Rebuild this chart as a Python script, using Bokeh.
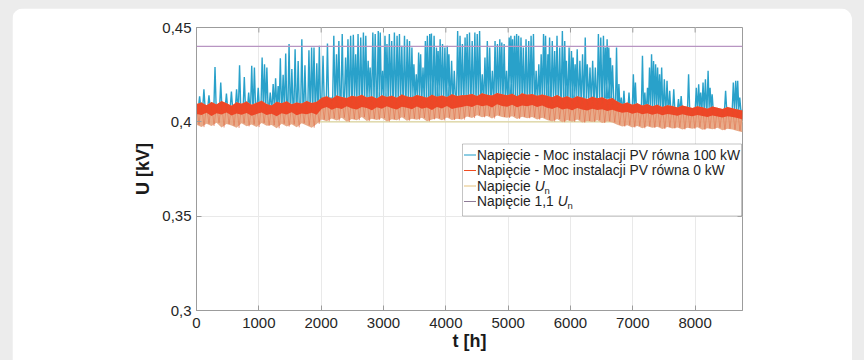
import numpy as np
from bokeh.plotting import figure
from bokeh.models import FixedTicker, Range1d, Label, BoxAnnotation, Span
from bokeh.embed import file_html
from bokeh.resources import INLINE

# ---------------- data ----------------
T_END = 8760

# 0 kW series, sampled every ~80 h: upper edge, lower edge of the dense red core, lowest dips
red_hi = [0.4095, 0.4102, 0.4088, 0.4105, 0.4092, 0.4110, 0.4098, 0.4085, 0.4104, 0.4096,
          0.4108, 0.4090, 0.4101, 0.4112, 0.4094, 0.4087, 0.4106, 0.4099, 0.4109, 0.4093,
          0.4103, 0.4097, 0.4111, 0.4100, 0.4106,
          0.4128, 0.4135, 0.4122, 0.4140, 0.4131, 0.4126, 0.4138, 0.4133, 0.4143, 0.4129,
          0.4136, 0.4124, 0.4141, 0.4132, 0.4138, 0.4127, 0.4145, 0.4134, 0.4130, 0.4142,
          0.4136, 0.4128, 0.4144, 0.4133, 0.4139, 0.4131, 0.4146, 0.4137, 0.4141,
          0.4142, 0.4148, 0.4137, 0.4151, 0.4144, 0.4139, 0.4153, 0.4146, 0.4141, 0.4149,
          0.4136, 0.4152, 0.4143, 0.4147, 0.4138, 0.4145,
          0.4138, 0.4130, 0.4142, 0.4127, 0.4135, 0.4124, 0.4136, 0.4129, 0.4121, 0.4133,
          0.4125, 0.4130, 0.4118, 0.4126,
          0.4108, 0.4095, 0.4102, 0.4090, 0.4098, 0.4086, 0.4094, 0.4082, 0.4091, 0.4079,
          0.4088, 0.4084, 0.4076, 0.4087, 0.4080, 0.4073, 0.4083, 0.4077, 0.4070, 0.4081,
          0.4074, 0.4068, 0.4079, 0.4072, 0.4066, 0.4060]
red_mid = [0.4042, 0.4036, 0.4048, 0.4031, 0.4045, 0.4039, 0.4050, 0.4034, 0.4044, 0.4038,
           0.4047, 0.4032, 0.4041, 0.4049, 0.4036, 0.4043, 0.4030, 0.4046, 0.4039, 0.4051,
           0.4035, 0.4044, 0.4040, 0.4048, 0.4037,
           0.4070, 0.4078, 0.4064, 0.4075, 0.4068, 0.4082, 0.4071, 0.4066, 0.4079, 0.4073,
           0.4062, 0.4077, 0.4069, 0.4083, 0.4072, 0.4065, 0.4080, 0.4074, 0.4067, 0.4081,
           0.4070, 0.4076, 0.4063, 0.4078, 0.4071, 0.4084, 0.4068, 0.4075, 0.4079,
           0.4085, 0.4078, 0.4091, 0.4082, 0.4088, 0.4076, 0.4093, 0.4084, 0.4080, 0.4090,
           0.4077, 0.4087, 0.4082, 0.4089, 0.4079, 0.4086,
           0.4074, 0.4068, 0.4078, 0.4065, 0.4071, 0.4062, 0.4073, 0.4066, 0.4060, 0.4070,
           0.4063, 0.4067, 0.4058, 0.4064,
           0.4055, 0.4048, 0.4052, 0.4043, 0.4049, 0.4040, 0.4046, 0.4038, 0.4044, 0.4035,
           0.4041, 0.4037, 0.4032, 0.4040, 0.4034, 0.4029, 0.4036, 0.4031, 0.4026, 0.4033,
           0.4028, 0.4023, 0.4030, 0.4025, 0.4020, 0.4012]
red_lo = [0.3985, 0.3972, 0.3990, 0.3978, 0.3995, 0.3970, 0.3988, 0.3980, 0.3968, 0.3992,
          0.3976, 0.3986, 0.3972, 0.3994, 0.3979, 0.3983, 0.3966, 0.3990, 0.3975, 0.3987,
          0.3971, 0.3993, 0.3981, 0.3969, 0.3989,
          0.4012, 0.4003, 0.4018, 0.4007, 0.4022, 0.4000, 0.4015, 0.4009, 0.4025, 0.4004,
          0.4016, 0.4010, 0.4020, 0.4002, 0.4014, 0.4008, 0.4024, 0.4006, 0.4017, 0.4011,
          0.4021, 0.4003, 0.4013, 0.4019, 0.4008, 0.4023, 0.4010, 0.4016, 0.4012,
          0.4028, 0.4020, 0.4035, 0.4024, 0.4031, 0.4018, 0.4034, 0.4026, 0.4021, 0.4030,
          0.4015, 0.4027, 0.4019, 0.4025, 0.4012, 0.4022,
          0.4010, 0.4002, 0.4015, 0.3998, 0.4008, 0.4000, 0.4012, 0.3996, 0.4005, 0.3999,
          0.4009, 0.3994, 0.4003, 0.3997,
          0.3985, 0.3975, 0.3982, 0.3970, 0.3978, 0.3966, 0.3976, 0.3968, 0.3974, 0.3962,
          0.3972, 0.3965, 0.3970, 0.3960, 0.3968, 0.3963, 0.3971, 0.3958, 0.3966, 0.3961,
          0.3969, 0.3956, 0.3964, 0.3959, 0.3952, 0.3945]

# 100 kW series: peaks of the midday spikes (hour, kV)
spike_t = [50, 119, 200, 297, 389, 480, 560, 643, 691, 767, 837, 886, 929, 990, 1053, 1091,
           1129, 1183, 1230, 1269, 1310, 1345, 1390, 1431, 1485, 1530, 1582, 1631, 1690, 1740,
           1804, 1847, 1885, 1930, 1971, 2030, 2101,
           2203, 2246, 2284, 2338, 2392, 2430, 2473, 2516, 2554, 2592, 2635, 2678, 2716, 2754,
           2786, 2829, 2867, 2916, 2948, 2986, 3024, 3056, 3094, 3132, 3175, 3218, 3256, 3294,
           3337, 3380, 3418, 3456, 3488, 3526, 3564, 3596, 3634, 3672, 3704, 3742, 3769, 3812,
           3850, 3877, 3909, 3947, 3985, 4023, 4050, 4093, 4136, 4190, 4228, 4266, 4309,
           4342, 4380, 4423, 4466, 4504, 4542, 4585, 4628, 4666, 4704, 4747, 4790, 4828, 4866,
           4898, 4936, 4974, 5017, 5044, 5071, 5103, 5136, 5168, 5206, 5244, 5287, 5330, 5368,
           5406, 5449, 5492, 5530, 5568, 5600, 5638, 5665, 5708, 5746, 5784, 5827, 5870, 5908,
           5935, 5978, 6016, 6043, 6075, 6108, 6151, 6194, 6237, 6270, 6313, 6356, 6399, 6448,
           6486, 6529,
           6560, 6588, 6615, 6642, 6675, 6739, 6777, 6815, 6858, 6939, 7009, 7042, 7155, 7193,
           7236, 7268, 7301, 7333, 7366, 7398, 7430, 7463, 7506, 7549, 7592, 7657, 7733, 7776,
           7895, 8019, 8057, 8089, 8127, 8165, 8208, 8240, 8273, 8489, 8613, 8651, 8683, 8716]
spike_v = [0.4135, 0.4173, 0.4140, 0.4291, 0.4208, 0.4150, 0.4160, 0.4173, 0.4300, 0.4238,
           0.4155, 0.4297, 0.4288, 0.4180, 0.4341, 0.4305, 0.4288, 0.4155, 0.4200, 0.4231,
           0.4190, 0.4337, 0.4250, 0.4362, 0.4412, 0.4280, 0.4385, 0.4323, 0.4438, 0.4300,
           0.4380, 0.4394, 0.4394, 0.4310, 0.4403, 0.4350, 0.4415,
           0.4456, 0.4358, 0.4429, 0.4465, 0.4341, 0.4438, 0.4456, 0.4461, 0.4358, 0.4465,
           0.4447, 0.4474, 0.4456, 0.4323, 0.4288, 0.4474, 0.4465, 0.4482, 0.4474, 0.4270,
           0.4456, 0.4412, 0.4465, 0.4429, 0.4474, 0.4456, 0.4465, 0.4403, 0.4456, 0.4438,
           0.4429, 0.4394, 0.4305, 0.4252, 0.4367, 0.4358, 0.4288, 0.4429, 0.4456, 0.4465,
           0.4468, 0.4456, 0.4394, 0.4376, 0.4438, 0.4412, 0.4394, 0.4403, 0.4358, 0.4323,
           0.4270, 0.4482, 0.4456, 0.4412, 0.4447,
           0.4465, 0.4474, 0.4429, 0.4474, 0.4465, 0.4482, 0.4252, 0.4341, 0.4429, 0.4394,
           0.4270, 0.4429, 0.4412, 0.4438, 0.4420, 0.4412, 0.4270, 0.4447, 0.4456, 0.4438,
           0.4456, 0.4465, 0.4456, 0.4447, 0.4394, 0.4438, 0.4429, 0.4456, 0.4465, 0.4270,
           0.4305, 0.4358, 0.4465, 0.4456, 0.4358, 0.4447, 0.4429, 0.4376, 0.4456, 0.4394,
           0.4482, 0.4429, 0.4323, 0.4394, 0.4376, 0.4341, 0.4305, 0.4385, 0.4323, 0.4358,
           0.4447, 0.4305, 0.4288, 0.4323, 0.4288, 0.4465, 0.4447, 0.4456,
           0.4394, 0.4438, 0.4394, 0.4340, 0.4300, 0.4394, 0.4200, 0.4128, 0.4164, 0.4155,
           0.4252, 0.4208, 0.4350, 0.4155, 0.4181, 0.4288, 0.4358, 0.4323, 0.4305, 0.4288,
           0.4252, 0.4288, 0.4226, 0.4217, 0.4164, 0.4173, 0.4120, 0.4137, 0.4252, 0.4181,
           0.4199, 0.4155, 0.4208, 0.4226, 0.4270, 0.4181, 0.4146, 0.4164, 0.4208, 0.4217,
           0.4217, 0.4128]
# 100 kW series between the spikes (level from given hour on)
blue_base_from = [0, 2000, 6700]
blue_base_val = [0.4080, 0.4125, 0.4060]

U_n = 0.40
U_max = 0.44

x_ticks = [0, 1000, 2000, 3000, 4000, 5000, 6000, 7000, 8000]
y_ticks = [0.30, 0.35, 0.40, 0.45]
y_tick_labels = ["0,3", "0,35", "0,4", "0,45"]

series_labels = ["Napięcie - Moc instalacji PV równa 100 kW",
                 "Napięcie - Moc instalacji PV równa 0 kW"]
un_prefix = ["Napięcie ", "Napięcie 1,1 "]

# ---------------- layout constants ----------------
W, H = 840, 352
BL, BR, BT, BB = 184, 110, 19, 50
FW, FH = W - BL - BR, H - BT - BB
Y0, Y1 = 0.30, 0.45
OX, OY = 12, 8  # figure offset on the page

def dx(px):
    return (px - OX - BL) / FW * T_END

def dy(py):
    return Y1 - (py - OY - BT) / FH * (Y1 - Y0)

PX_T = T_END / FW            # hours per pixel
PX_V = (Y1 - Y0) / FH        # kV per pixel

C_BLUE = "#1d9cc7"
C_RED = "#ef4022"
C_TAN = "#e7a784"
C_UN = "#dcd49c"
C_UMAX = "#b895c2"
C_AX = "#9c9c9c"
FONT = "Liberation Sans"

p = figure(width=W, height=H, x_range=Range1d(0, T_END), y_range=Range1d(Y0, Y1),
           output_backend="svg", toolbar_location=None,
           min_border_left=BL, min_border_right=BR, min_border_top=BT, min_border_bottom=BB)
p.outline_line_color = C_AX
p.background_fill_color = "white"
p.border_fill_color = "white"
p.styles = {"margin-left": f"{OX}px", "margin-top": f"{OY}px",
            "border-radius": "12px 12px 0 0", "overflow": "hidden"}

# axes
p.xaxis.ticker = FixedTicker(ticks=x_ticks)
p.yaxis.ticker = FixedTicker(ticks=y_ticks)
p.yaxis.major_label_overrides = {v: s for v, s in zip(y_ticks, y_tick_labels)}
for ax in p.axis:
    ax.axis_line_color = C_AX
    ax.major_tick_line_color = C_AX
    ax.major_tick_in = 5
    ax.major_tick_out = 0
    ax.minor_tick_line_color = None
    ax.major_label_text_color = "#262626"
    ax.major_label_text_font = FONT
    ax.major_label_text_font_size = "15px"
    ax.axis_label_text_font = FONT
    ax.axis_label_text_font_size = "18px"
    ax.axis_label_text_font_style = "bold"
    ax.axis_label_text_color = "#1a1a1a"
p.xaxis.major_label_standoff = 7
p.yaxis.major_label_standoff = 5
p.xaxis.axis_label = "t [h]"
p.yaxis.axis_label = "U [kV]"
p.xaxis.axis_label_standoff = 0
p.yaxis.axis_label_standoff = 6
p.xgrid.ticker = FixedTicker(ticks=x_ticks)
p.ygrid.ticker = FixedTicker(ticks=y_ticks)
p.grid.grid_line_color = "#e9e9e9"

# inward ticks on the top and right edges of the box
p.segment(x0=x_ticks, x1=x_ticks, y0=[Y1] * len(x_ticks), y1=[Y1 - 5 * PX_V] * len(x_ticks),
          line_color=C_AX, line_width=1)
p.segment(x0=[T_END] * len(y_ticks), x1=[T_END - 5 * PX_T] * len(y_ticks), y0=y_ticks, y1=y_ticks,
          line_color=C_AX, line_width=1)

# U_n line (under the series)
p.add_layout(Span(location=U_n, dimension="width", line_color=C_UN, line_width=1.3, level="underlay"))

# 100 kW series
st = np.array(spike_t, dtype=float)
sv = np.array(spike_v, dtype=float)
order = np.argsort(st)
st, sv = st[order], sv[order]
bidx = np.searchsorted(blue_base_from, st, side="right") - 1
bb = np.array(blue_base_val)[bidx]
bx = [0.0]
by = [blue_base_val[0]]
for t, v, b in zip(st, sv, bb):
    bx += [t - 18, t, t + 18]
    by += [b, v, b]
bx.append(T_END)
by.append(blue_base_val[-1])
p.line(bx, by, line_color=C_BLUE, line_width=1.4, line_alpha=0.95)

# 0 kW series (dense hourly trace drawn as its envelope + core)
rt = np.linspace(0, T_END, len(red_hi))
p.varea(x=rt, y1=red_lo, y2=red_hi, fill_color=C_TAN, fill_alpha=0.95)
p.varea(x=rt, y1=red_mid, y2=red_hi, fill_color=C_RED, fill_alpha=0.95)
half = (rt[1] - rt[0]) / 2
zx = np.empty(2 * len(rt))
zy = np.empty(2 * len(rt))
zx[0::2] = rt
zx[1::2] = rt + half
zy[0::2] = red_hi
zy[1::2] = red_lo
p.line(zx[:-1], zy[:-1], line_color="#e0502a", line_width=0.8, line_alpha=0.45)

# 1.1 U_n line
p.add_layout(Span(location=U_max, dimension="width", line_color=C_UMAX, line_width=1.3))

# legend
p.add_layout(BoxAnnotation(left=dx(462), right=dx(741), top=dy(143.5), bottom=dy(215.5),
                           fill_color="white", fill_alpha=1.0, line_color="#3c3c3c", line_width=1))
rows = [154.5, 170.0, 185.5, 201.0]
leg_colors = [C_BLUE, "#f04b20", "#e6c27c", "#8e7b96"]
p.segment(x0=[dx(463.5)] * 4, x1=[dx(475.5)] * 4, y0=[dy(r) for r in rows], y1=[dy(r) for r in rows],
          line_color=leg_colors, line_width=1.2, level="overlay")
leg_kw = dict(text_font=FONT, text_font_size="13.8px", text_color="#1e1e1e",
              text_baseline="middle", text_align="left")
for r, s in zip(rows[:2], series_labels):
    p.add_layout(Label(x=dx(476.5), y=dy(r), text=s, **leg_kw))
pref_w = [57.8, 80.7]
for r, s, w in zip(rows[2:], un_prefix, pref_w):
    p.add_layout(Label(x=dx(476.5), y=dy(r), text=s, **leg_kw))
    p.add_layout(Label(x=dx(476.5 + w), y=dy(r), text="U", text_font_style="italic", **leg_kw))
    p.add_layout(Label(x=dx(476.5 + w + 9.8), y=dy(r + 4), text="n", text_font=FONT,
                       text_font_size="9.5px", text_color="#1e1e1e", text_baseline="middle",
                       text_align="left"))

html = file_html(p, INLINE, "chart")
html = html.replace("</head>",
                    "<style>html, body {margin:0; padding:0; background:#ececec;}</style></head>", 1)
open("out.html", "w").write(html)
